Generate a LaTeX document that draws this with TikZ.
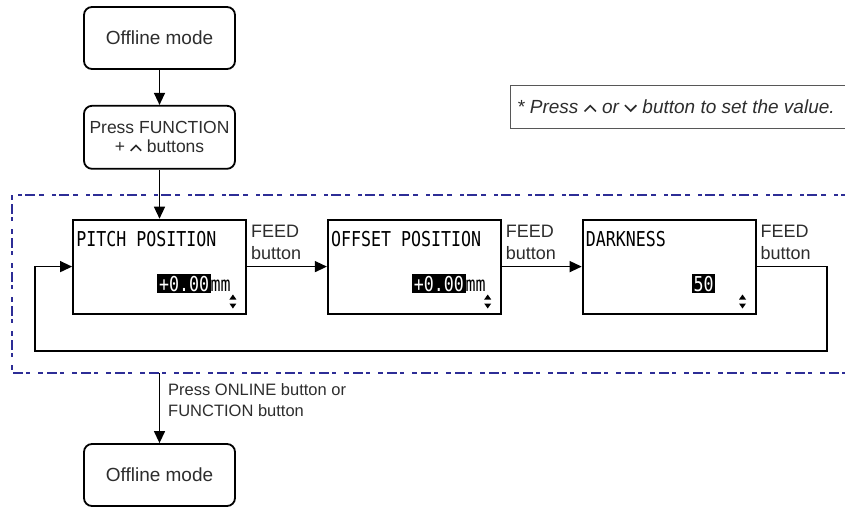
\documentclass[tikz,border=0pt]{standalone}
\usepackage{fontspec}
\usepackage{graphicx}
\setmainfont{Liberation Sans}
\newfontfamily\lcdfont{DejaVu Sans Mono}
\usetikzlibrary{arrows.meta,positioning}

\definecolor{frameblue}{RGB}{45,45,150}
\definecolor{labelgray}{RGB}{45,45,45}

% display text of the panel, narrow and tall
\newcommand{\lcdtext}[1]{\scalebox{0.81}[1]{\fontsize{20.5}{22}\selectfont\lcdfont #1}}
\newcommand{\lcdhi}[1]{{\setlength{\fboxsep}{2pt}\colorbox{black}{\textcolor{white}{#1}}}}
% key symbols
\newcommand{\keyup}{\tikz[baseline=0pt, sharp corners]\draw[line width=1.6pt] (0,0.12em) -- (0.3em,0.42em) -- (0.6em,0.12em);}
\newcommand{\keydown}{\tikz[baseline=0pt, sharp corners]\draw[line width=1.6pt] (0,0.45em) -- (0.3em,0.15em) -- (0.6em,0.45em);}

\begin{document}
\begin{tikzpicture}[
    x=1pt, y=1pt,
    modebox/.style={draw, rounded corners=8pt, line width=1.8pt, minimum width=151pt,
      align=center, text=labelgray},
    panel/.style={draw, line width=1.8pt, minimum width=173pt, minimum height=94pt},
    lcd/.style={inner sep=0pt},
    flow/.style={-{Triangle[length=12pt,width=11pt]}, line width=1.3pt},
    feed/.style={font=\fontsize{18}{22}\selectfont, text=labelgray, align=left, inner sep=0pt},
    lbl/.style={font=\fontsize{16.5}{21}\selectfont, text=labelgray, align=left, inner sep=0pt},
    frame/.style={frameblue, line width=2.4pt,
      dash pattern=on 5pt off 4pt on 10pt off 3pt on 4pt off 8pt},
  ]
\useasboundingbox (0,0) rectangle (845,-508);

% entry into the setting
\node[modebox, minimum height=62pt, font=\fontsize{19}{22}\selectfont]
  (offA) at (159.5,-38) {Offline mode};
\node[modebox, minimum height=63pt, font=\fontsize{17.5}{19}\selectfont,
  below=35pt of offA] (press) {Press FUNCTION\\+ \keyup{} buttons};

% group of settings
\draw[frame] (12,-195) rectangle (870,-373);
\node[panel, below=49pt of press] (pitch) {};
\node[panel, right=80pt of pitch] (offset) {};
\node[panel, right=80pt of offset] (dark) {};

\node[lcd, anchor=north west] (pitchname) at ([shift={(4,-12)}]pitch.north west)
  {\lcdtext{PITCH POSITION}};
\node[lcd, anchor=east] (pitchval) at ([shift={(-16,-17)}]pitch.east)
  {\lcdtext{\lcdhi{+0.00}mm}};
\node[lcd, anchor=north west] (offsetname) at ([shift={(4,-12)}]offset.north west)
  {\lcdtext{OFFSET POSITION}};
\node[lcd, anchor=east] (offsetval) at ([shift={(-16,-17)}]offset.east)
  {\lcdtext{\lcdhi{+0.00}mm}};
\node[lcd, anchor=north west] (darkname) at ([shift={(4,-12)}]dark.north west)
  {\lcdtext{DARKNESS}};
\node[lcd, anchor=east] (darkval) at ([shift={(-41,-17)}]dark.east)
  {\lcdtext{\lcdhi{50}}};

\foreach \b in {pitch,offset,dark} {
  \fill ([shift={(-17.5,15)}]\b.south east) -- ++(7,0) -- ++(-3.5,5) -- cycle;
  \fill ([shift={(-17.5,11)}]\b.south east) -- ++(7,0) -- ++(-3.5,-5) -- cycle;
  \node[feed, anchor=north west] (\b feed) at ([shift={(4,42)}]\b.east) {FEED\\button};
}

\draw[flow] (offA) -- (press);
\draw[flow] (press.south) -- (press.south |- pitch.north);
\draw[flow] (pitch) -- (offset);
\draw[flow] (offset) -- (dark);
\coordinate (loopR) at (827,-351);
\coordinate (loopL) at (35,-351);
\draw[flow] (dark.east) -| (loopR) -- (loopL) |- (pitch.west);

% leaving the setting
\node[modebox, minimum height=62pt, font=\fontsize{19}{22}\selectfont]
  (offB) at (159.5,-475) {Offline mode};
\coordinate (exit) at (159.5,-373);
\draw[flow] (exit) -- (offB);
\node[lbl, anchor=north west] (exitlbl) at (168,-383)
  {Press ONLINE button or\\FUNCTION button};

% note on the value keys
\draw[labelgray!80, line width=1pt] (510,-86) rectangle (870,-128);
\node[anchor=west, text=labelgray, inner sep=0pt,
  font=\fontsize{19}{22}\selectfont\itshape] (note) at (517,-107)
  {* Press \keyup{} or \keydown{} button to set the value.};

\end{tikzpicture}
\end{document}
